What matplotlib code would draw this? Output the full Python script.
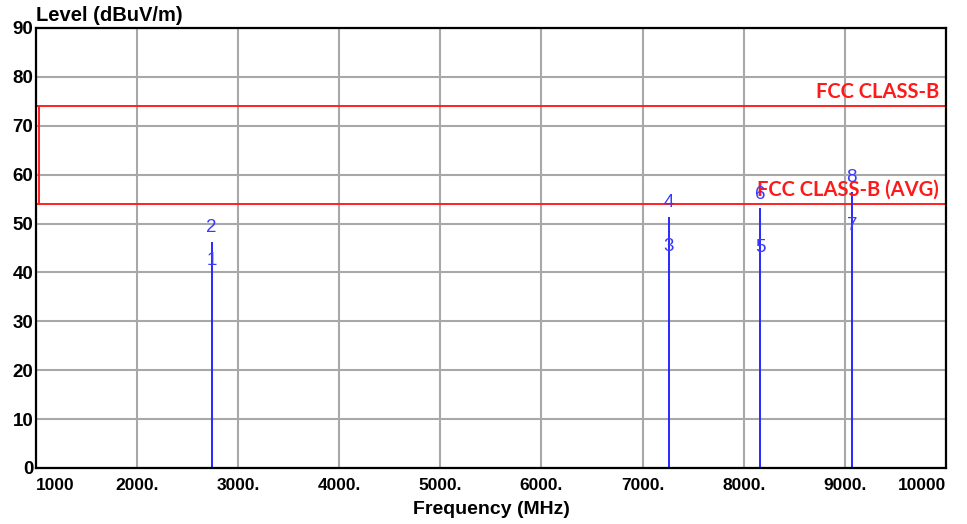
import matplotlib.pyplot as plt

# limit lines (dBuV/m)
freq_min = 1000
freq_max = 10000
limit_qp = 74.0
limit_avg = 54.0

# emission markers: frequency, peak level, avg level
mk_freq = [2737, 7257, 8165, 9069]
mk_peak = [46.3, 51.4, 53.1, 56.5]
mk_avg = [39.7, 42.4, 42.2, 46.7]
mk_peak_no = ['2', '4', '6', '8']
mk_avg_no = ['1', '3', '5', '7']

xticks = [1000, 2000, 3000, 4000, 5000, 6000, 7000, 8000, 9000, 10000]
xlabels = ['1000', '2000.', '3000.', '4000.', '5000.', '6000.', '7000.', '8000.', '9000.', '10000']
yticks = list(range(0, 100, 10))

arial = ['Liberation Sans', 'DejaVu Sans']

fig = plt.figure(figsize=(9.67, 5.24), dpi=100)
ax = fig.add_axes([0.0372, 0.1069, 0.941, 0.8397])
ax.set_xlim(freq_min, freq_max)
ax.set_ylim(0, 90)

ax.set_xticks(xticks)
ax.set_xticklabels(xlabels, fontsize=12.5, fontweight='bold', family=arial)
ax.set_yticks(yticks)
ax.set_yticklabels([str(v) for v in yticks], fontsize=13.5, fontweight='bold', family=arial)
ax.tick_params(length=0)
ax.tick_params(axis='x', pad=7)
ax.tick_params(axis='y', pad=2)
lbls = ax.get_xticklabels()
lbls[0].set_horizontalalignment('left')
lbls[-1].set_horizontalalignment('right')

ax.grid(True, color='#a8a8a8', lw=1.5)
ax.set_axisbelow(True)
for s in ax.spines.values():
    s.set_linewidth(1.6)
    s.set_color('black')

# limits
ax.plot([freq_min, freq_max], [limit_qp, limit_qp], color='#ff2020', lw=1.4)
ax.plot([freq_min, freq_max], [limit_avg, limit_avg], color='#ff2020', lw=1.4)
ax.plot([freq_min + 28, freq_min + 28], [limit_avg, limit_qp], color='#ff2020', lw=1.4)
ax.text(9930, limit_qp + 0.9, 'FCC CLASS-B', color='#ff1a1a', fontsize=14.5,
        fontweight='bold', family=['Lato', 'DejaVu Sans'], ha='right', va='bottom')
ax.text(9930, limit_avg + 0.9, 'FCC CLASS-B (AVG)', color='#ff1a1a', fontsize=14.5,
        fontweight='bold', family=['Lato', 'DejaVu Sans'], ha='right', va='bottom')

# markers
for f, pk, av, npk, nav in zip(mk_freq, mk_peak, mk_avg, mk_peak_no, mk_avg_no):
    ax.vlines(f, 0, pk, color='#2828ff', lw=1.4)
    ax.annotate(npk, (f, pk), xytext=(0, 10), textcoords='offset points',
                ha='center', va='center', color='#3a3aff', fontsize=13.5, family=arial)
    ax.annotate(nav, (f, av), xytext=(0, 10), textcoords='offset points',
                ha='center', va='center', color='#3a3aff', fontsize=13.5, family=arial)

fig.text(0.037, 0.971, 'Level (dBuV/m)', fontsize=14.5, fontweight='bold',
         family=arial, ha='left', va='center')
ax.set_xlabel('Frequency (MHz)', fontsize=14, fontweight='bold', family=arial, labelpad=6)

fig.savefig('out.png', dpi=100)
